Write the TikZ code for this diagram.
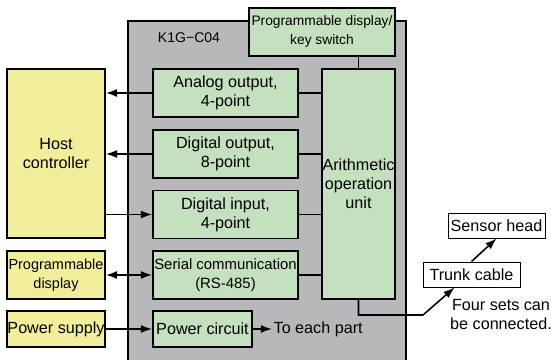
\documentclass[tikz,border=0pt]{standalone}
\usepackage{fontspec}
\setmainfont{Liberation Sans}
\usepackage{tikz}
\usetikzlibrary{positioning,arrows.meta}
\definecolor{UnitGreen}{HTML}{C4E0BE}
\definecolor{HostYellow}{HTML}{F2EF9C}
\definecolor{CaseGray}{HTML}{B8B8BA}
\tikzset{
  unitnode/.style={draw=black,fill=UnitGreen,line width=1.3pt,
    minimum width=3.625cm,minimum height=1.2cm,
    font=\fontsize{11.5}{13.5}\selectfont,
    align=center,inner sep=0pt},
  hostnode/.style={draw=black,fill=HostYellow,line width=1.3pt,
    minimum width=2.45cm,minimum height=1.2cm,
    font=\fontsize{11.5}{13.5}\selectfont,
    align=center,inner sep=0pt},
  extnode/.style={draw=black,fill=white,line width=0.7pt,
    minimum width=2.425cm,minimum height=0.625cm,
    font=\fontsize{11.5}{13.5}\selectfont,
    align=center,inner sep=0pt},
  casebox/.style={draw=black,fill=CaseGray,line width=1.3pt},
  plaintext/.style={font=\fontsize{11.5}{13.5}\selectfont,align=center,inner sep=1pt},
  sigS/.style={line width=1.1pt,-{Latex[length=2.8mm,width=2mm]}},
  sigB/.style={line width=1.1pt,{Latex[length=2.8mm,width=2mm]}-{Latex[length=2.8mm,width=2mm]}},
  busL/.style={line width=1.1pt},
}
\begin{document}
\begin{tikzpicture}[node distance=0pt]
  \useasboundingbox (0,0) rectangle (13.775,8.975);
  \draw[casebox] (3.2,-0.3) rectangle (10.15,8.45);
  \node[plaintext,font=\fontsize{10}{12}\selectfont] (model) at (4.725,8.025) {K1G−C04};
  \node[hostnode,minimum height=4.225cm] (host) at (1.4,5.1375) {Host\\controller};
  \node[hostnode,font=\fontsize{10.3}{13.5}\selectfont] (pdisp) at (1.4,2.1) {Programmable\\display};
  \node[hostnode,minimum height=0.9cm] (psup) at (1.4,0.75) {Power supply};
  \node[unitnode] (aout) at (5.6375,6.65) {Analog output,\\4-point};
  \node[unitnode] (dout) at (5.6375,5.125) {Digital output,\\8-point};
  \node[unitnode] (din) at (5.6375,3.6125) {Digital input,\\4-point};
  \node[unitnode,font=\fontsize{10.6}{13.5}\selectfont] (serial) at (5.6375,2.1) {Serial communication\\(RS-485)};
  \node[unitnode,minimum width=2.475cm,minimum height=0.9cm] (pcirc) at (5.0625,0.75) {Power circuit};
  \node[unitnode,minimum width=1.825cm,minimum height=5.75cm] (arith) at (8.9625,4.375) {Arithmetic\\operation\\unit};
  \node[unitnode,minimum width=3.65cm,minimum height=1.21cm,font=\fontsize{9.8}{13.5}\selectfont] (keysw) at (8.05,8.18) {Programmable display/\\key switch};
  \node[plaintext,anchor=west] (toeach) at (6.8,0.75) {To each part};
  \node[extnode] (trunk) at (11.7875,2.1125) {Trunk cable};
  \node[extnode] (sensor) at (12.4125,3.3375) {Sensor head};
  \node[plaintext] (note) at (12.525,1.12) {Four sets can\\be connected.};
  \coordinate (bend) at (10.575,1.1);
  \draw[sigS] (aout.west) -- (host.east |- aout.west);
  \draw[sigS] (dout.west) -- (host.east |- dout.west);
  \draw[sigS] (host.east |- din.west) -- (din.west);
  \draw[sigB] (pdisp.east) -- (serial.west);
  \draw[sigS] (psup.east) -- (pcirc.west);
  \draw[sigS] (pcirc.east) -- (toeach.west);
  \draw[busL] (aout.east) -- (arith.west |- aout.east);
  \draw[busL] (dout.east) -- (arith.west |- dout.east);
  \draw[busL] (din.east) -- (arith.west |- din.east);
  \draw[busL] (serial.east) -- (arith.west |- serial.east);
  \draw[busL] (arith.north) -- (arith.north |- keysw.south);
  \draw[sigS] (arith.south) |- (bend) -- ([xshift=0.8cm]trunk.south west);
  \draw[sigS] (trunk.north) -- (sensor.south);
\end{tikzpicture}
\end{document}
